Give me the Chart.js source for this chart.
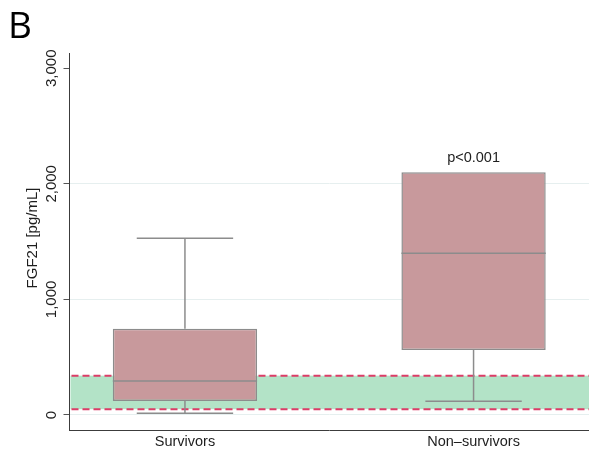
<!DOCTYPE html>
<html>
<head>
<meta charset="utf-8">
<script src="https://cdn.jsdelivr.net/npm/chart.js@4/dist/chart.umd.min.js"></script>
<style>
  html, body { margin: 0; padding: 0; background: #ffffff; }
  #wrap { width: 589px; height: 457px; }
</style>
</head>
<body>
<div id="wrap"><canvas id="c" width="589" height="457"></canvas></div>
<script>
// FGF21 concentrations by outcome group (pg/mL)
const categories = ['Survivors', 'Non\u2013survivors'];
const whiskerLow = [15, 118];
const q1 = [120, 562];
const median = [295, 1400];
const q3 = [745, 2100];
const whiskerHigh = [1530, 2100];
const refLow = 50;
const refHigh = 340;
const yTicks = [0, 1000, 2000, 3000];
const yTickLabels = ['0', '1,000', '2,000', '3,000'];
const pLabel = 'p<0.001';
const pLabelGroup = 1;

const FONT = 'Liberation Sans, Arial, Helvetica, sans-serif';
const TEXT = '#1e1e1e';
const LINE_GREY = '#8c8c8c';

// Reference range band and dashed limits behind the boxes
const refBand = {
  id: 'refBand',
  beforeDatasetsDraw(chart) {
    const { ctx, chartArea: a, scales: { y } } = chart;
    const yTop = y.getPixelForValue(refHigh);
    const yBot = y.getPixelForValue(refLow);
    ctx.save();
    ctx.fillStyle = '#b3e3c7';
    ctx.fillRect(a.left + 1, yTop, a.right - a.left, yBot - yTop);
    ctx.strokeStyle = '#dc3d67';
    ctx.lineWidth = 2;
    ctx.setLineDash([7, 4]);
    [yTop, yBot].forEach(py => {
      ctx.beginPath();
      ctx.moveTo(a.left + 2, py);
      ctx.lineTo(a.right, py);
      ctx.stroke();
    });
    ctx.restore();
  }
};

// Medians, whiskers, caps and annotation text
const boxExtras = {
  id: 'boxExtras',
  afterDatasetsDraw(chart) {
    const { ctx, scales: { x, y } } = chart;
    ctx.save();
    ctx.strokeStyle = LINE_GREY;
    ctx.lineWidth = 1.5;
    const boxHalf = 0.25, capHalf = 0.167;
    categories.forEach((c, i) => {
      const xv = i + 1;
      const cx = x.getPixelForValue(xv);
      // median
      ctx.beginPath();
      ctx.moveTo(x.getPixelForValue(xv - boxHalf), y.getPixelForValue(median[i]));
      ctx.lineTo(x.getPixelForValue(xv + boxHalf), y.getPixelForValue(median[i]));
      ctx.stroke();
      // whiskers
      const segs = [[q1[i], whiskerLow[i]], [q3[i], whiskerHigh[i]]];
      segs.forEach(([from, to]) => {
        if (from === to) return;
        ctx.beginPath();
        ctx.moveTo(cx, y.getPixelForValue(from));
        ctx.lineTo(cx, y.getPixelForValue(to));
        ctx.stroke();
        ctx.beginPath();
        ctx.moveTo(x.getPixelForValue(xv - capHalf), y.getPixelForValue(to));
        ctx.lineTo(x.getPixelForValue(xv + capHalf), y.getPixelForValue(to));
        ctx.stroke();
      });
    });
    // p-value above the group box
    ctx.fillStyle = TEXT;
    ctx.font = '14.5px ' + FONT;
    ctx.textAlign = 'center';
    ctx.textBaseline = 'alphabetic';
    ctx.fillText(pLabel, x.getPixelForValue(pLabelGroup + 1), y.getPixelForValue(whiskerHigh[pLabelGroup]) - 10);
    ctx.restore();
  },
  afterDraw(chart) {
    const { ctx, scales: { y } } = chart;
    ctx.save();
    ctx.fillStyle = TEXT;
    // rotated y tick labels
    ctx.font = '15px ' + FONT;
    ctx.textAlign = 'center';
    ctx.textBaseline = 'middle';
    yTicks.forEach((v, i) => {
      ctx.save();
      ctx.translate(52, y.getPixelForValue(v));
      ctx.rotate(-Math.PI / 2);
      ctx.fillText(yTickLabels[i], 0, 0);
      ctx.restore();
    });
    // y axis title
    ctx.save();
    ctx.translate(33, 238);
    ctx.rotate(-Math.PI / 2);
    ctx.fillText('FGF21 [pg/mL]', 0, 0);
    ctx.restore();
    // panel letter
    ctx.font = '37px "Open Sans", sans-serif';
    ctx.textAlign = 'left';
    ctx.textBaseline = 'alphabetic';
    ctx.fillStyle = '#000000';
    ctx.fillText('B', 8, 38);
    ctx.restore();
  }
};

new Chart(document.getElementById('c'), {
  type: 'bar',
  data: {
    datasets: [{
      data: categories.map((c, i) => ({ x: i + 1, y: [q1[i], q3[i]] })),
      backgroundColor: '#c8999c',
      borderColor: LINE_GREY,
      borderWidth: 1.5,
      borderSkipped: false,
      categoryPercentage: 1,
      barPercentage: 0.5
    }]
  },
  options: {
    responsive: false,
    animation: false,
    events: [],
    layout: { padding: { top: 53, left: 0, right: 0, bottom: 0 } },
    plugins: { legend: { display: false }, tooltip: { enabled: false } },
    scales: {
      x: {
        type: 'linear',
        offset: false,
        min: 0.6,
        max: 2.4,
        afterBuildTicks: s => { s.ticks = categories.map((c, i) => ({ value: i + 1 })); },
        ticks: {
          callback: v => categories[v - 1],
          font: { family: FONT, size: 14.5 },
          color: TEXT,
          padding: 3,
          maxRotation: 0
        },
        grid: { display: false, drawTicks: false, offset: false },
        border: { display: true, color: '#3c3c3c', width: 1 },
        afterFit: s => { s.height = 27; }
      },
      y: {
        min: -130,
        max: 3132,
        afterBuildTicks: s => { s.ticks = yTicks.map(v => ({ value: v })); },
        ticks: { display: false },
        grid: {
          color: c => (c.tick && c.tick.value === 3000) ? 'rgba(0,0,0,0)' : '#e6efef',
          lineWidth: 1,
          drawTicks: true,
          tickLength: 6,
          tickColor: '#555555'
        },
        border: { display: true, color: '#3c3c3c', width: 1 },
        afterFit: s => { s.width = 69.5; }
      }
    }
  },
  plugins: [refBand, boxExtras]
});
</script>
</body>
</html>
